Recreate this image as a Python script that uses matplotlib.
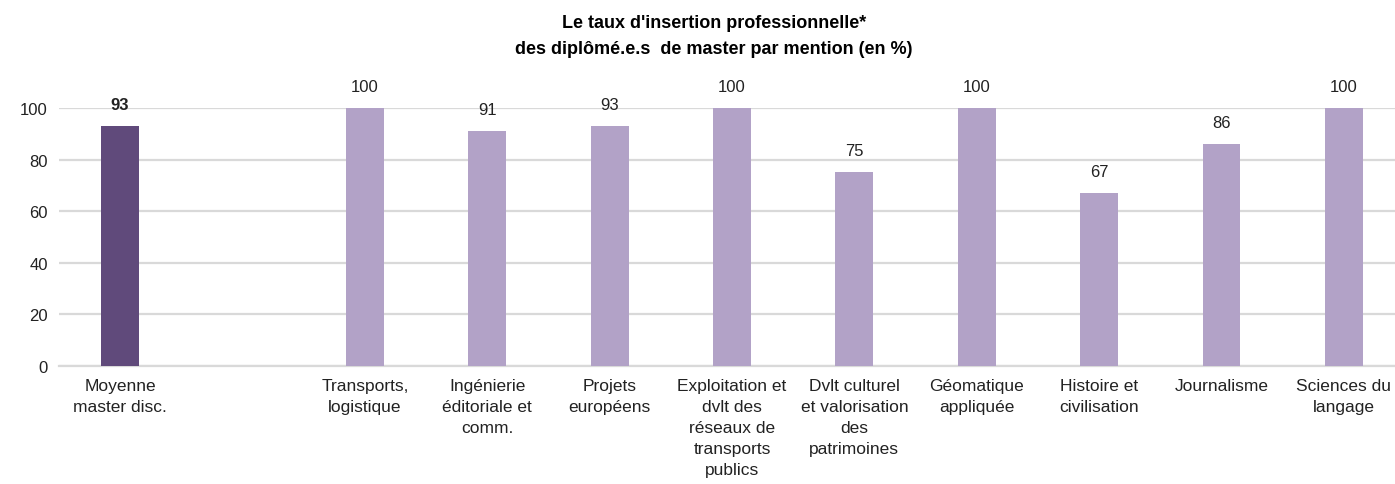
import matplotlib
matplotlib.use("Agg")
import matplotlib.pyplot as plt

plt.rcParams['font.family'] = ['Liberation Sans Narrow', 'Liberation Sans', 'DejaVu Sans']

categories = [
    "Moyenne\nmaster disc.",
    "",
    "Transports,\nlogistique",
    "Ingénierie\néditoriale et\ncomm.",
    "Projets\neuropéens",
    "Exploitation et\ndvlt des\nréseaux de\ntransports\npublics",
    "Dvlt culturel\net valorisation\ndes\npatrimoines",
    "Géomatique\nappliquée",
    "Histoire et\ncivilisation",
    "Journalisme",
    "Sciences du\nlangage",
]
values = [93, None, 100, 91, 93, 100, 75, 100, 67, 86, 100]
yticks = [0, 20, 40, 60, 80, 100]

dark = "#604a7b"
light = "#b2a2c7"

fig = plt.figure(figsize=(13.95, 4.85), dpi=100)
ax = fig.add_axes([0.0422, 0.2433, 0.965, 0.532])

x = list(range(len(categories)))
for i, v in enumerate(values):
    if v is None:
        continue
    color = dark if i == 0 else light
    ax.bar(i, v, width=0.31, color=color, zorder=3)
    ax.text(i, v + 5.5, str(v), ha="center", va="bottom", fontsize=12,
            fontweight="bold" if i == 0 else "normal", color="#222222",
            clip_on=False)

ax.set_xlim(-0.5, len(categories) - 0.5)
ax.set_ylim(0, 100)
ax.set_yticks(yticks)
ax.set_yticklabels([str(t) for t in yticks], fontsize=12, color="#222222")
ax.set_xticks(x)
ax.set_xticklabels(categories, fontsize=12.5, color="#222222", linespacing=1.48)
ax.tick_params(axis="both", length=0)
ax.tick_params(axis="x", pad=9)
ax.tick_params(axis="y", pad=8)
ax.yaxis.grid(True, color="#d9d9d9", linewidth=1.6, zorder=0)
ax.set_axisbelow(True)
for s in ["top", "right", "left"]:
    ax.spines[s].set_visible(False)
ax.spines["bottom"].set_color("#d9d9d9")
ax.spines["bottom"].set_linewidth(1.6)

fig.text(0.512, 0.97, "Le taux d'insertion professionnelle*\ndes diplômé.e.s  de master par mention (en %)",
         ha="center", va="top", fontsize=13, fontweight="bold", linespacing=1.75)

fig.savefig("out.png", dpi=100)
